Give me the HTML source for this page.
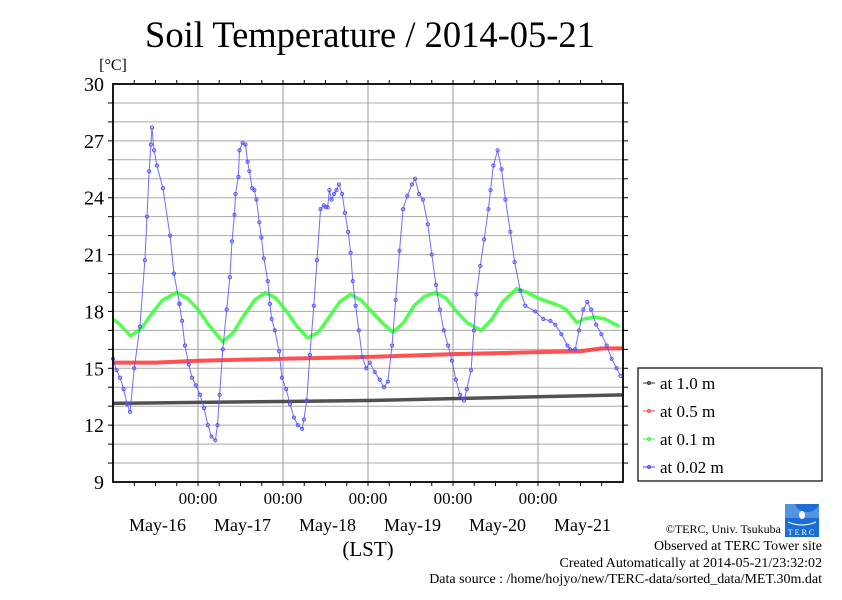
<!DOCTYPE html>
<html><head><meta charset="utf-8"><style>
body{margin:0;background:#fff;}
svg text{font-family:"Liberation Serif",serif;}
</style></head><body>
<svg id="chart" width="842" height="595" viewBox="0 0 842 595" xmlns="http://www.w3.org/2000/svg">
<text x="370" y="47" font-size="36.5" text-anchor="middle">Soil Temperature / 2014-05-21</text>
<text x="113" y="70" font-size="16" text-anchor="middle">[°C]</text>
<g id="grid"></g>
<g id="series"></g>
<g id="axes"></g>
<text x="368" y="556" font-size="21" text-anchor="middle">(LST)</text>
<g>
<rect x="638" y="368" width="184" height="113" fill="#fff" stroke="#000" stroke-width="1.2"/>
<g><line x1="643" y1="383" x2="655" y2="383" stroke="#333"/><circle cx="649" cy="383" r="1.5" fill="none" stroke="#333"/><text x="660" y="389" font-size="17">at 1.0 m</text></g>
<g><line x1="643" y1="411" x2="655" y2="411" stroke="#f44"/><circle cx="649" cy="411" r="1.5" fill="none" stroke="#f44"/><text x="660" y="417" font-size="17">at 0.5 m</text></g>
<g><line x1="643" y1="439" x2="655" y2="439" stroke="#4e4"/><circle cx="649" cy="439" r="1.5" fill="none" stroke="#4e4"/><text x="660" y="445" font-size="17">at 0.1 m</text></g>
<g><line x1="643" y1="467" x2="655" y2="467" stroke="#44f"/><circle cx="649" cy="467" r="1.5" fill="none" stroke="#44f"/><text x="660" y="473" font-size="17">at 0.02 m</text></g>
</g>
<g>
<rect x="785" y="504" width="34" height="33" fill="#1a6fd6"/>
<path d="M785 504 h10 q3 8 12 8 q9 0 12 -8 v14 h-34z" fill="#fff" opacity="0.25"/>
<ellipse cx="802" cy="515" rx="3" ry="4" fill="#fff"/>
<path d="M788 522 q14 6 28 0" stroke="#fff" fill="none"/>
<text x="802" y="535" font-size="8" fill="#fff" text-anchor="middle" letter-spacing="2">TERC</text>
</g>
<g font-size="14" text-anchor="end">
<text x="781" y="533" font-size="12">©TERC, Univ. Tsukuba</text>
<text x="822" y="550">Observed at TERC Tower site</text>
<text x="822" y="567">Created Automatically at 2014-05-21/23:32:02</text>
<text x="822" y="583">Data source : /home/hojyo/new/TERC-data/sorted_data/MET.30m.dat</text>
</g>
</svg>
<script>
const yTicks=[9,12,15,18,21,24,27,30];
const dayLabels=["May-16","May-17","May-18","May-19","May-20","May-21"];
const blueHours=[0,1,2,3,4,4.8,6,7.6,9,9.6,10.2,10.7,11,11.6,12.4,14.1,16.1,17.2,18.8,18.7,19.5,20.3,21.4,22.3,23.4,24.6,25.7,26.8,27.8,28.9,29.5,30.1,31,32.1,33,33.6,34.3,34.6,35.4,35.7,36.6,37.4,38,38.5,39.3,39.9,40.5,41.3,41.9,42.6,43.7,44.3,44.8,45.7,46.9,47.7,48.9,50,51.1,52.2,53.4,53.9,54.7,55.6,56.7,57.6,58.6,59.5,60.1,60.6,61.1,61.7,62.4,63.1,63.8,64.7,65.5,66.4,67.1,67.7,68.5,69.4,70.4,71.5,72.5,73.9,75.3,76.5,77.6,78.8,79.8,80.9,81.9,83.1,84.4,85.3,86.4,87.5,88.9,90,91.2,92.3,93.4,94.6,95.7,96.8,98,99.1,99.9,101.1,101.9,102.6,103.7,104.8,106,106.6,107.4,108.6,109.7,110.8,112.2,113.4,115,116.4,119.2,121.5,123.5,124.9,126.6,128.3,129.1,130.5,131.6,132.8,133.9,135,136.4,137.9,139.4,140.8,142.2,143.3];
const blueValues=[15.5,14.9,14.5,13.9,13.1,12.7,15,17.2,20.7,23,25.4,26.8,27.7,26.5,25.7,24.5,22,20,18.4,18.4,17.5,16.2,15.2,14.5,14.1,13.6,12.9,12,11.4,11.2,12,13.6,16,18.1,19.8,21.7,23.1,24.2,25.1,26.5,26.9,26.8,25.9,25.4,24.5,24.4,23.9,22.7,21.9,20.8,19.6,18.4,17.6,17,15.9,14.5,13.9,13.1,12.4,12,11.8,12.3,13.3,15.7,18.3,20.7,23.4,23.6,23.5,23.5,24.4,23.9,24.2,24.4,24.7,24.2,23.2,22.2,21.1,19.6,18.3,17,15.6,15,15.3,14.8,14.4,14,14.3,16.2,18.6,21.2,23.4,24.1,24.7,25,24.2,23.9,22.6,21,19.4,18.1,17,16.2,15.4,14.4,13.6,13.3,13.9,14.9,17,18.9,20.4,21.8,23.4,24.4,25.7,26.5,25.5,23.9,22.2,20.6,19.1,18.3,18,17.6,17.5,17.3,16.8,16.2,16,16,17,18.1,18.5,18.1,17.3,16.8,16.2,15.5,15,14.6,14.4];
const greenHours=[0,2,5,8,11,14,18,21,24,27,31,34,37,40,43,46,49,52,55,58,61,64,67,70,73,76,79,82,85,88,91,94,97,100,104,107,110,114,117,120,123,126,128,131,133,136,139,141,143];
const greenValues=[17.6,17.3,16.7,17.1,17.9,18.6,19.0,18.7,18.1,17.3,16.4,16.9,17.8,18.6,19.0,18.7,18.0,17.2,16.6,16.9,17.7,18.5,18.9,18.6,18.0,17.4,16.9,17.4,18.3,18.8,19.0,18.7,18.0,17.4,17.0,17.6,18.5,19.2,19.0,18.7,18.5,18.3,18.1,17.4,17.6,17.7,17.6,17.4,17.2];
const redHours=[0,12,24,48,72,96,120,132,138,144];
const redValues=[15.3,15.3,15.4,15.5,15.6,15.75,15.85,15.9,16.05,16.05];
const blackHours=[0,24,48,72,96,120,144];
const blackValues=[13.15,13.2,13.25,13.3,13.4,13.5,13.6];

const X0=113,X1=623,Y0=84,Y1=482,H=144,TMIN=9,TMAX=30;
const xs=h=>X0+h*(X1-X0)/H;
const ys=t=>Y1-(t-TMIN)*(Y1-Y0)/(TMAX-TMIN);
const NS="http://www.w3.org/2000/svg";
function mk(tag,attrs,parent){const e=document.createElementNS(NS,tag);for(const k in attrs)e.setAttribute(k,attrs[k]);parent.appendChild(e);return e;}
const grid=document.getElementById('grid'),axes=document.getElementById('axes'),ser=document.getElementById('series');
for(let t=TMIN+1;t<TMAX;t++){
  const l=mk('line',{x1:X0,x2:X1,y1:ys(t),y2:ys(t),stroke:'#aaa','stroke-width':1},grid);
  
  
  mk('line',{x1:X0-5,x2:X0,y1:ys(t),y2:ys(t),stroke:'#000'},axes);
  mk('line',{x1:X1,x2:X1+5,y1:ys(t),y2:ys(t),stroke:'#000'},axes);
}
for(let d=1;d<6;d++){
  const l=mk('line',{x1:xs(d*24),x2:xs(d*24),y1:Y0,y2:Y1,stroke:'#999'},grid);
  
  
  const t=mk('text',{x:xs(d*24),y:504,'font-size':17,'text-anchor':'middle'},axes);
  t.textContent='00:00';
  
  
}
for(let h=6;h<H;h+=6){
  mk('line',{x1:xs(h),x2:xs(h),y1:Y0-4,y2:Y0,stroke:'#000'},axes);
  mk('line',{x1:xs(h),x2:xs(h),y1:Y1,y2:Y1+4,stroke:'#000'},axes);
}
dayLabels.forEach((s,i)=>{
  const t=mk('text',{x:xs(12+i*24)+2,y:531,'font-size':18,'text-anchor':'middle'},axes);
  t.textContent=s;
  
  
});
yTicks.forEach(v=>{
  const t=mk('text',{x:X0-9,y:ys(v)+7,'font-size':20,'text-anchor':'end'},axes);
  t.textContent=v;
  
  
});
const frame=mk('rect',{x:X0,y:Y0,width:X1-X0,height:Y1-Y0,fill:'none',stroke:'#000','stroke-width':1.8},axes);


function draw(hours,vals,color,name,lw,r){
  const g=mk('g',{},ser);
  
  
  const pts=hours.map((h,i)=>xs(h)+','+ys(vals[i])).join(' ');
  mk('polyline',{points:pts,fill:'none',stroke:color,'stroke-width':lw,'stroke-linejoin':'round',opacity:0.85},g);
  hours.forEach((h,i)=>{
    const c=mk('circle',{cx:xs(h),cy:ys(vals[i]),r:r,fill:'none',stroke:color,'stroke-width':1},g);
    
    
  });
}
draw(blackHours,blackValues,'#333','series-1m',3.5,0);
draw(redHours,redValues,'#f33','series-05m',4,0);
draw(greenHours,greenValues,'#3f3','series-01m',3.5,0);
draw(blueHours,blueValues,'#55f','series-002m',1,1.6);
</script>
</body></html>
